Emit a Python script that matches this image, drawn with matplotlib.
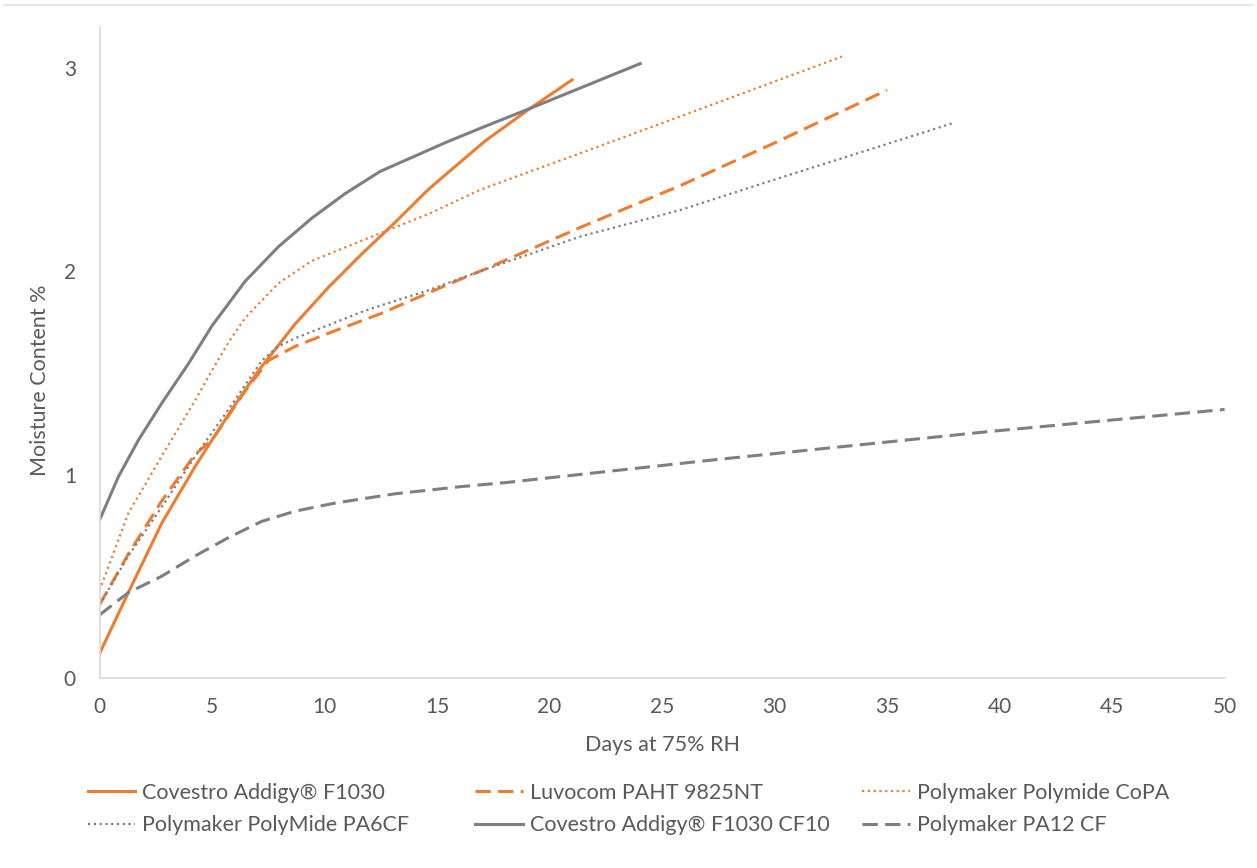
import matplotlib.pyplot as plt
from matplotlib.lines import Line2D

plt.rcParams['font.family'] = ['Lato', 'DejaVu Sans']

orange = '#ED7D31'
gray = '#7F7F7F'
text_color = '#595959'

# days / moisture content %
f1030_x = [0, 1.28, 2.76, 4.25, 5, 6, 7.06, 8.69, 10.17, 11.66, 13.14, 14.6, 15.44, 17.14, 19.14, 21]
f1030_y = [0.12, 0.42, 0.76, 1.04, 1.17, 1.34, 1.51, 1.74, 1.92, 2.085, 2.24, 2.40, 2.48, 2.64, 2.80, 2.94]

luvocom_x = [0, 1.28, 2.76, 4.25, 5, 6.47, 7.5, 8.69, 10.3, 12.47, 15.6, 17.14, 21.37, 25.8, 30, 35]
luvocom_y = [0.36, 0.61, 0.87, 1.10, 1.17, 1.41, 1.56, 1.63, 1.70, 1.79, 1.94, 2.01, 2.215, 2.42, 2.63, 2.89]

copa_x = [0, 1.28, 2.76, 4.25, 4.99, 5.73, 6.47, 7.95, 9.43, 11.66, 14.6, 16.92, 21.37, 25.8, 33]
copa_y = [0.43, 0.81, 1.09, 1.365, 1.51, 1.65, 1.77, 1.94, 2.05, 2.15, 2.28, 2.40, 2.58, 2.76, 3.055]

pa6cf_x = [0, 1.28, 2.76, 4.25, 5.73, 7.21, 7.95, 8.69, 10.3, 11.66, 12.47, 14.6, 16.92, 21.37, 25.8, 30, 38]
pa6cf_y = [0.36, 0.60, 0.84, 1.09, 1.32, 1.56, 1.63, 1.67, 1.74, 1.80, 1.83, 1.905, 2.0, 2.17, 2.30, 2.45, 2.73]

cf10_x = [0, 0.84, 1.73, 2.76, 3.95, 4.99, 5.73, 6.47, 7.95, 9.43, 10.9, 12.47, 15.44, 17.1, 19.14, 24.03]
cf10_y = [0.776, 0.99, 1.17, 1.35, 1.545, 1.73, 1.84, 1.95, 2.12, 2.26, 2.38, 2.49, 2.635, 2.71, 2.80, 3.02]

pa12_x = [0, 1.28, 2.76, 4.25, 5.73, 7.21, 8.69, 10.47, 13.1, 16, 18, 27.1, 39.4, 50]
pa12_y = [0.31, 0.42, 0.50, 0.60, 0.69, 0.77, 0.82, 0.86, 0.905, 0.94, 0.96, 1.07, 1.21, 1.32]

x_ticks = [0, 5, 10, 15, 20, 25, 30, 35, 40, 45, 50]
y_ticks = [0, 1, 2, 3]

fig = plt.figure(figsize=(12.57, 8.68), dpi=100)
ax = fig.add_axes([0.0792, 0.2189, 0.8950, 0.7500])

lw = 2.2
dash = (0, (5, 2.4))
dot = (0, (1, 1.6))
l1, = ax.plot(f1030_x, f1030_y, color=orange, lw=lw, label='Covestro Addigy® F1030')
l2, = ax.plot(luvocom_x, luvocom_y, color=orange, lw=lw, ls=dash, label='Luvocom PAHT 9825NT')
l3, = ax.plot(copa_x, copa_y, color=orange, lw=1.6, ls=dot, label='Polymaker Polymide CoPA')
l4, = ax.plot(pa6cf_x, pa6cf_y, color=gray, lw=1.6, ls=dot, label='Polymaker PolyMide PA6CF')
l5, = ax.plot(cf10_x, cf10_y, color=gray, lw=lw, label='Covestro Addigy® F1030 CF10')
l6, = ax.plot(pa12_x, pa12_y, color=gray, lw=lw, ls=dash, label='Polymaker PA12 CF')

ax.set_xlim(0, 50)
ax.set_ylim(0, 3.2)
ax.set_xticks(x_ticks)
ax.set_yticks(y_ticks)
ax.tick_params(length=0, labelsize=15, colors=text_color)
ax.tick_params(axis='x', pad=14)
ax.tick_params(axis='y', pad=17)
for side in ['top', 'right']:
    ax.spines[side].set_visible(False)
for side in ['left', 'bottom']:
    ax.spines[side].set_color('#D9D9D9')
    ax.spines[side].set_linewidth(1.2)

ax.set_xlabel('Days at 75% RH', fontsize=15.5, color=text_color, va='center')
ax.xaxis.set_label_coords(0.5, -0.103)
ax.set_ylabel('Moisture Content %', fontsize=15.5, color=text_color, va='center')
ax.yaxis.set_label_coords(-0.053, 0.458)

# one legend per column, two rows each
columns = [(l1, l4), (l2, l5), (l3, l6)]
col_x = [0.070, 0.378, 0.686]
for lines, x in zip(columns, col_x):
    fig.legend(lines, [ln.get_label() for ln in lines], loc='center left',
               bbox_to_anchor=(x, 0.068), frameon=False, fontsize=15.5,
               labelcolor=text_color, handlelength=2.2, handletextpad=0.33,
               borderpad=0, borderaxespad=0, labelspacing=0.6)

# thin rule across the top of the picture
fig.add_artist(Line2D([0.003, 0.997], [0.994, 0.994], color='#E3E3E3', lw=1.2))

fig.savefig('out.png', dpi=100, facecolor='white')
